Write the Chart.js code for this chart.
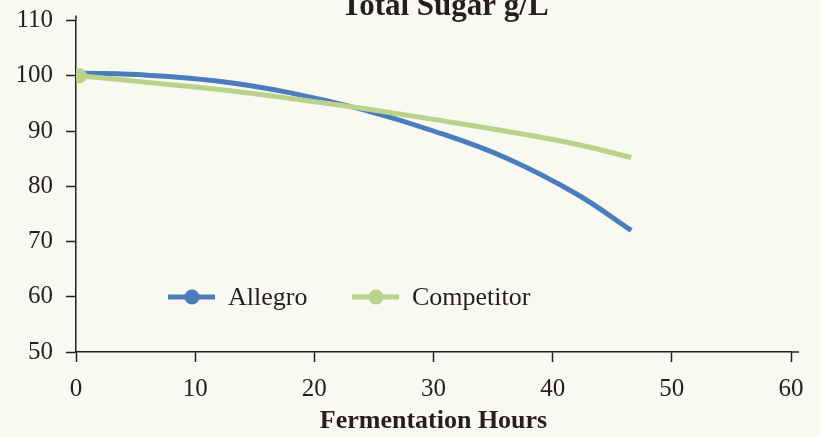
<!DOCTYPE html>
<html lang="en">
<head>
  <meta charset="UTF-8" />
  <title>Total Sugar g/L</title>
  <style>
    html, body {
      margin: 0;
      padding: 0;
      background: #f9f8f1;
    }
    #wrap {
      width: 820px;
      height: 437px;
    }
  </style>
</head>
<body>
  <div id="wrap">
    <canvas id="sugarChart" width="820" height="437"></canvas>
  </div>

  <script src="https://cdn.jsdelivr.net/npm/chart.js"></script>
  <script>
    // fermentation hours and total sugar readings (g/L)
    const hours = [0.3, 6, 12, 18, 24, 30, 36, 42, 46.6];
    const allegro = [100.5, 100.1, 99.0, 96.9, 93.9, 90.0, 85.2, 78.6, 72.0];
    const competitor = [100.0, 98.8, 97.5, 95.9, 94.1, 92.1, 90.0, 87.6, 85.2];
    const xTicks = [0, 10, 20, 30, 40, 50, 60];
    const yTicks = [50, 60, 70, 80, 90, 100, 110];

    const blue = "#4a7dbc";
    const green = "#b9d38a";
    const ink = "#231f20";
    const serif = "'Liberation Serif', 'DejaVu Serif', serif";

    function points(values) {
      return hours.map((h, i) => ({ x: h, y: values[i] }));
    }

    // title sits half off the top edge, as in the source picture
    const topTitle = {
      id: "topTitle",
      afterDraw(chart) {
        const ctx = chart.ctx;
        ctx.save();
        ctx.fillStyle = ink;
        ctx.font = "bold 31px " + serif;
        ctx.textAlign = "center";
        ctx.textBaseline = "alphabetic";
        ctx.fillText("Total Sugar g/L", 445, 15);
        ctx.restore();
      }
    };

    // legend drawn inside the plot, line + dot like the original
    const innerLegend = {
      id: "innerLegend",
      afterDraw(chart) {
        const ctx = chart.ctx;
        const area = chart.chartArea;
        const y = area.bottom - 55;
        let x = area.left + 92;
        chart.data.datasets.forEach(ds => {
          ctx.save();
          ctx.strokeStyle = ds.borderColor;
          ctx.lineWidth = 5;
          ctx.beginPath();
          ctx.moveTo(x, y);
          ctx.lineTo(x + 47, y);
          ctx.stroke();
          ctx.fillStyle = ds.borderColor;
          ctx.beginPath();
          ctx.arc(x + 24, y, 7.5, 0, Math.PI * 2);
          ctx.fill();
          ctx.fillStyle = ink;
          ctx.font = "26px " + serif;
          ctx.textBaseline = "middle";
          ctx.fillText(ds.label, x + 60, y + 1);
          ctx.restore();
          x += 184;
        });
      }
    };

    // axis lines run a little past the last tick
    const axisOverhang = {
      id: "axisOverhang",
      afterDraw(chart) {
        const ctx = chart.ctx;
        const a = chart.chartArea;
        ctx.save();
        ctx.strokeStyle = ink;
        ctx.lineWidth = 1.5;
        ctx.beginPath();
        ctx.moveTo(a.right, a.bottom);
        ctx.lineTo(a.right + 8, a.bottom);
        ctx.moveTo(a.left, a.top);
        ctx.lineTo(a.left, a.top - 5);
        ctx.stroke();
        ctx.restore();
      }
    };

    const ctx = document.getElementById("sugarChart").getContext("2d");
    new Chart(ctx, {
      type: "line",
      data: {
        datasets: [
          {
            label: "Allegro",
            data: points(allegro),
            borderColor: blue,
            backgroundColor: blue,
            borderWidth: 5,
            pointRadius: 0,
            tension: 0.4,
            order: 2
          },
          {
            label: "Competitor",
            data: points(competitor),
            borderColor: green,
            backgroundColor: green,
            borderWidth: 5,
            pointRadius: hours.map((h, i) => (i === 0 ? 7.5 : 0)),
            pointBorderWidth: 0,
            tension: 0.4,
            order: 1
          }
        ]
      },
      options: {
        responsive: false,
        animation: false,
        layout: { padding: { left: 0, right: 29, top: 15, bottom: 0 } },
        plugins: {
          legend: { display: false },
          tooltip: { enabled: false },
          title: { display: false }
        },
        scales: {
          x: {
            type: "linear",
            min: 0,
            max: 60,
            afterBuildTicks: s => { s.ticks = xTicks.map(v => ({ value: v })); },
            afterFit: s => { s.height = 85; },
            grid: {
              drawOnChartArea: false,
              drawTicks: true,
              tickLength: 10,
              tickColor: ink,
              tickWidth: 1.5
            },
            border: { display: true, color: ink, width: 1.5 },
            ticks: {
              color: ink,
              padding: 12,
              maxRotation: 0,
              font: { family: serif, size: 25 }
            },
            title: {
              display: true,
              text: "Fermentation Hours",
              color: ink,
              font: { family: serif, size: 26, weight: "bold", lineHeight: 1.2 },
              padding: { top: 0, bottom: 0 }
            }
          },
          y: {
            type: "linear",
            min: 50,
            max: 110,
            afterBuildTicks: s => { s.ticks = yTicks.map(v => ({ value: v })); },
            afterFit: s => { s.width = 76; },
            grid: {
              drawOnChartArea: false,
              drawTicks: true,
              tickLength: 10,
              tickColor: ink,
              tickWidth: 1.5
            },
            border: { display: true, color: ink, width: 1.5 },
            ticks: {
              color: ink,
              padding: 13,
              font: { family: serif, size: 25, lineHeight: 0.6 }
            }
          }
        }
      },
      plugins: [topTitle, innerLegend, axisOverhang]
    });
  </script>
</body>
</html>
